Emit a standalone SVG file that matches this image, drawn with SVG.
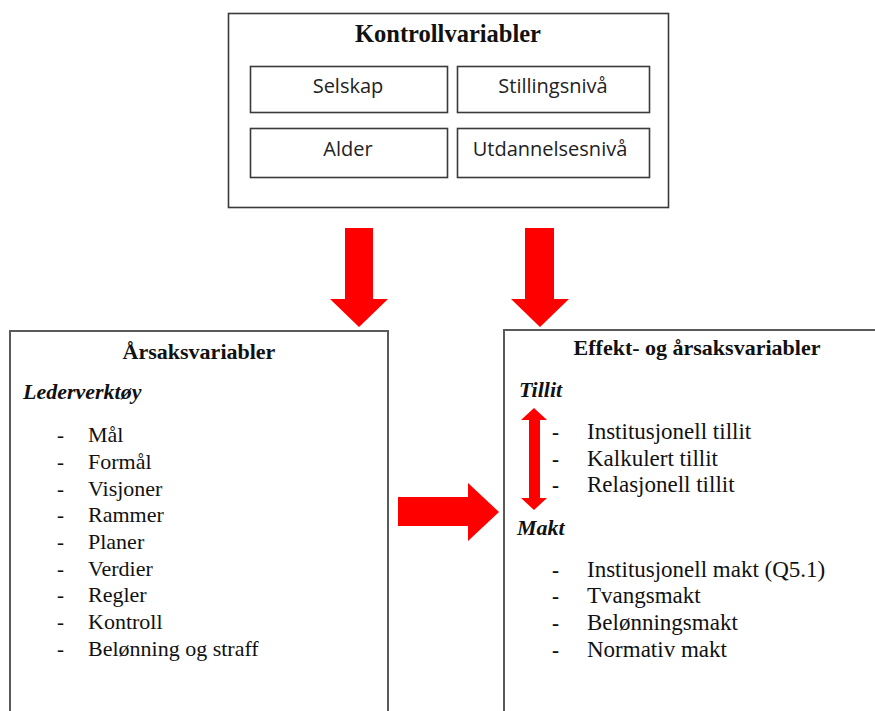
<svg xmlns="http://www.w3.org/2000/svg" width="875" height="711" viewBox="0 0 875 711">
  <style>
    .frame { fill: #ffffff; stroke: #3a3a3a; stroke-width: 1.6; }
    .panel { fill: #ffffff; stroke: #5a5a5a; stroke-width: 2; }
    .arrow { fill: #ff0000; stroke: none; }
    .head { font-family: "Liberation Serif", "Times New Roman", serif; font-weight: bold; font-size: 22px; fill: #111; text-anchor: middle; }
    .title { font-size: 24.5px; }
    .sub { font-family: "Liberation Serif", "Times New Roman", serif; font-weight: bold; font-style: italic; font-size: 22px; fill: #111; }
    .item { font-family: "Liberation Serif", "Times New Roman", serif; font-size: 22px; fill: #111; }
    .item-r { font-family: "Liberation Serif", "Times New Roman", serif; font-size: 23px; fill: #111; }
    .dash { font-family: "Liberation Serif", "Times New Roman", serif; font-size: 21px; fill: #111; }
    .bdash { font-family: "Liberation Serif", "Times New Roman", serif; font-size: 21px; font-weight: bold; fill: #111; }
    .cell { font-family: "Open Sans", "Noto Sans", sans-serif; font-size: 20px; fill: #222; text-anchor: middle; }
  </style>

  <!-- Control variables -->
  <g id="kontrollvariabler">
    <rect class="frame" x="228.5" y="13.5" width="440" height="194"/>
    <text class="head title" x="448" y="42">Kontrollvariabler</text>
    <g id="selskap">
      <rect class="frame" x="250.5" y="66.5" width="197" height="46"/>
      <text class="cell" x="348" y="93">Selskap</text>
    </g>
    <g id="stillingsniva">
      <rect class="frame" x="457.5" y="66.5" width="192" height="46"/>
      <text class="cell" x="553" y="93">Stillingsnivå</text>
    </g>
    <g id="alder">
      <rect class="frame" x="250.5" y="128.5" width="197" height="49"/>
      <text class="cell" x="348" y="156">Alder</text>
    </g>
    <g id="utdanningsniva">
      <rect class="frame" x="457.5" y="128.5" width="192" height="49"/>
      <text class="cell" x="550" y="156">Utdannelsesnivå</text>
    </g>
  </g>

  <!-- Cause variables -->
  <g id="arsaksvariabler">
    <rect class="panel" x="10" y="331" width="378" height="400"/>
    <text class="head" x="199" y="359">Årsaksvariabler</text>
    <text class="sub" x="23" y="399">Lederverktøy</text>
    <g class="dash">
      <text x="57" y="442">-</text>
      <text x="57" y="469">-</text>
      <text x="57" y="496">-</text>
      <text x="57" y="522">-</text>
      <text x="57" y="549">-</text>
      <text x="57" y="576">-</text>
      <text x="57" y="602">-</text>
      <text x="57" y="629">-</text>
      <text x="57" y="656">-</text>
    </g>
    <g class="item">
      <text x="88" y="442">Mål</text>
      <text x="88" y="469">Formål</text>
      <text x="88" y="496">Visjoner</text>
      <text x="88" y="522">Rammer</text>
      <text x="88" y="549">Planer</text>
      <text x="88" y="576">Verdier</text>
      <text x="88" y="602">Regler</text>
      <text x="88" y="629">Kontroll</text>
      <text x="88" y="656">Belønning og straff</text>
    </g>
  </g>

  <!-- Effect and cause variables -->
  <g id="effekt-og-arsaksvariabler">
    <rect class="panel" x="504" y="330" width="400" height="400"/>
    <text class="head" x="697" y="355" font-size="23">Effekt- og årsaksvariabler</text>
    <text class="sub" x="519" y="397">Tillit</text>
    <text class="sub" x="517" y="535">Makt</text>
    <g class="bdash">
      <text x="552" y="439">-</text>
      <text x="552" y="466">-</text>
      <text x="552" y="492">-</text>
      <text x="552" y="577">-</text>
      <text x="552" y="603">-</text>
      <text x="552" y="630">-</text>
      <text x="552" y="657">-</text>
    </g>
    <g class="item-r">
      <text x="587" y="439">Institusjonell tillit</text>
      <text x="587" y="466">Kalkulert tillit</text>
      <text x="587" y="492">Relasjonell tillit</text>
      <text x="587" y="577">Institusjonell makt (Q5.1)</text>
      <text x="587" y="603">Tvangsmakt</text>
      <text x="587" y="630">Belønningsmakt</text>
      <text x="587" y="657">Normativ makt</text>
    </g>
  </g>

  <!-- Connectors -->
  <g id="connectors">
    <polygon class="arrow" points="345,228 373,228 373,299 388,299 359,327 330,299 345,299"/>
    <polygon class="arrow" points="525,228 554,228 554,299 569,299 540,327 511,299 525,299"/>
    <polygon class="arrow" points="398,497 468,497 468,483 499,512 468,541 468,526 398,526"/>
    <polygon class="arrow" points="534,408 547,420 540,420 540,498 547,498 534,510 521,498 529,498 529,420 521,420"/>
  </g>
</svg>
